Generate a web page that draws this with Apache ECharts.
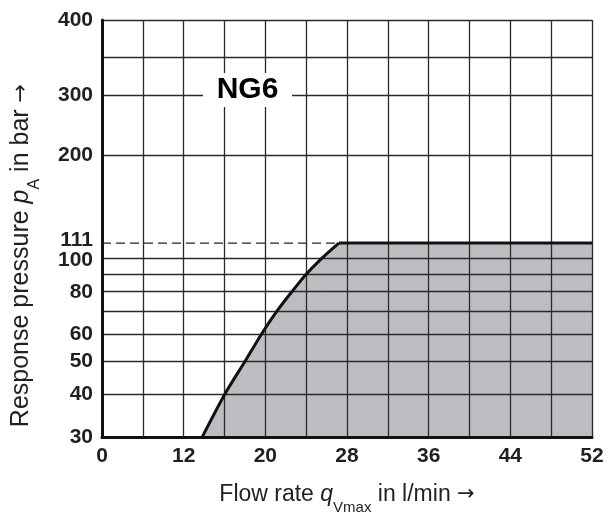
<!DOCTYPE html>
<html>
<head>
<meta charset="utf-8">
<script src="https://cdn.jsdelivr.net/npm/echarts@6/dist/echarts.min.js"></script>
<style>
  html, body { margin: 0; padding: 0; background: #fff; }
  #chart { width: 615px; height: 514px; }
</style>
</head>
<body>
<div id="chart"></div>
<script>
  // response pressure curve
  const flowRate = [13.8, 16, 18, 19.6, 21.1, 22.6, 24, 25.5, 27.2, 52]
  const pressure = [30, 40, 50, 60, 70, 80, 90, 100, 111, 111]
  const limitPressure = 111

  const xTickLabels = [0, 12, 20, 28, 36, 44, 52]
  const yTickLabels = [30, 40, 50, 60, 80, 100, 111, 200, 300, 400]
  const yGridValues = [30, 40, 50, 60, 70, 80, 90, 100, 200, 300, 350, 400]

  // x axis is broken: 0..12 only gets two grid cells
  const xPos = q => (q >= 12 ? q : 4 + (q * 8) / 12)
  const xVal = p => (p >= 12 ? p : ((p - 4) * 12) / 8)
  // y axis: log up to 300 bar, then linear up to 400
  const TOP = 0.2205
  const LOG300 = Math.log10(300)
  const yPos = v => (v <= 300 ? Math.log10(v) : LOG300 + ((v - 300) / 100) * TOP)
  const yVal = p => (p <= LOG300 + 1e-9 ? Math.pow(10, p) : 300 + ((p - LOG300) / TOP) * 100)

  const ink = '#231f20'
  const font = 'Liberation Sans, Arial, sans-serif'
  const kneeIdx = pressure.indexOf(limitPressure)
  const points = flowRate.map((q, i) => [xPos(q), yPos(pressure[i])])
  const rising = points.slice(0, kneeIdx + 1)
  const flat = points.slice(kneeIdx)
  // fill for the flat part starts one point earlier so no seam shows at the knee
  const flatFill = points.slice(kneeIdx - 1)

  const chart = echarts.init(document.getElementById('chart'))
  chart.setOption({
    animation: false,
    grid: { left: 102, right: 23, top: 20, bottom: 76.6, outerBoundsMode: 'none', containLabel: false },
    xAxis: {
      type: 'value',
      min: xPos(0),
      max: 52,
      interval: 4,
      z: 3,
      axisLine: { show: true, onZero: false, lineStyle: { color: '#111', width: 3 } },
      axisTick: { show: false },
      splitLine: { show: true, lineStyle: { color: '#2a2a2a', width: 1.3 } },
      axisLabel: {
        customValues: xTickLabels.map(xPos),
        formatter: v => String(Math.round(xVal(v))),
        fontSize: 21,
        fontWeight: 'bold',
        fontFamily: font,
        color: ink,
        margin: 8,
      },
      name: 'Flow rate {q|q}{sub|Vmax} in l/min {arr|→}',
      nameLocation: 'middle',
      nameGap: 37,
      nameTextStyle: {
        fontSize: 23,
        fontFamily: font,
        color: ink,
        rich: {
          q: { fontSize: 23, fontStyle: 'italic', fontFamily: font, color: ink },
          sub: { fontSize: 15, fontFamily: font, color: ink, padding: [26, 0, 0, 0] },
          arr: { fontSize: 21, fontFamily: 'DejaVu Sans', color: ink },
        },
      },
    },
    yAxis: {
      type: 'value',
      min: yPos(30),
      max: yPos(400),
      z: 3,
      axisLine: { show: true, onZero: false, lineStyle: { color: '#111', width: 3 } },
      axisTick: { show: false, customValues: yGridValues.map(yPos) },
      splitLine: { show: true, lineStyle: { color: '#2a2a2a', width: 1.3 } },
      axisLabel: {
        customValues: yTickLabels.map(yPos),
        formatter: v => {
          const n = Math.round(yVal(v))
          if (n === 111) return '{up|111}'
          if (n === 100) return '{dn|100}'
          return '{n|' + n + '}'
        },
        margin: 9,
        rich: {
          n: { fontSize: 21, fontWeight: 'bold', fontFamily: font, color: ink },
          up: { fontSize: 21, fontWeight: 'bold', fontFamily: font, color: ink, padding: [0, 0, 6, 0] },
          dn: { fontSize: 21, fontWeight: 'bold', fontFamily: font, color: ink, padding: [4, 0, 0, 0] },
        },
      },
    },
    graphic: [
      {
        type: 'text',
        left: 9,
        top: 84,
        rotation: Math.PI / 2,
        z: 10,
        style: {
          text: 'Response pressure {p|p}{sub|A} in bar {arr|→}',
          fontSize: 25,
          fontFamily: font,
          fill: ink,
          rich: {
            p: { fontSize: 25, fontStyle: 'italic', fontFamily: font, fill: ink },
            sub: { fontSize: 16, fontFamily: font, fill: ink, padding: [26, 0, 0, 0] },
            arr: { fontSize: 22, fontFamily: 'DejaVu Sans', fill: ink },
          },
        },
      },
      {
        type: 'rect',
        z: 10,
        shape: { x: 203, y: 73, width: 89, height: 34 },
        style: { fill: '#fff' },
      },
      {
        type: 'text',
        z: 11,
        x: 247.5,
        y: 90,
        style: {
          text: 'NG6',
          fontSize: 30,
          fontWeight: 'bold',
          fontFamily: font,
          fill: '#000',
          align: 'center',
          verticalAlign: 'middle',
        },
      },
    ],
    series: [
      {
        type: 'line',
        data: rising,
        smooth: 0.3,
        symbol: 'none',
        z: 1,
        lineStyle: { width: 0 },
        areaStyle: { color: '#bcbdc0', opacity: 1 },
      },
      {
        type: 'line',
        data: flatFill,
        symbol: 'none',
        z: 1,
        lineStyle: { width: 0 },
        areaStyle: { color: '#bcbdc0', opacity: 1 },
      },
      {
        type: 'line',
        data: [
          [xPos(0), yPos(limitPressure)],
          [xPos(flowRate[kneeIdx]), yPos(limitPressure)],
        ],
        symbol: 'none',
        z: 5,
        lineStyle: { color: '#222', width: 1.3, type: [9, 5] },
      },
      {
        type: 'line',
        data: rising,
        smooth: 0.3,
        symbol: 'none',
        z: 6,
        lineStyle: { color: '#111', width: 3 },
      },
      {
        type: 'line',
        data: flat,
        symbol: 'none',
        z: 6,
        lineStyle: { color: '#111', width: 3 },
      },
    ],
  })
</script>
</body>
</html>
